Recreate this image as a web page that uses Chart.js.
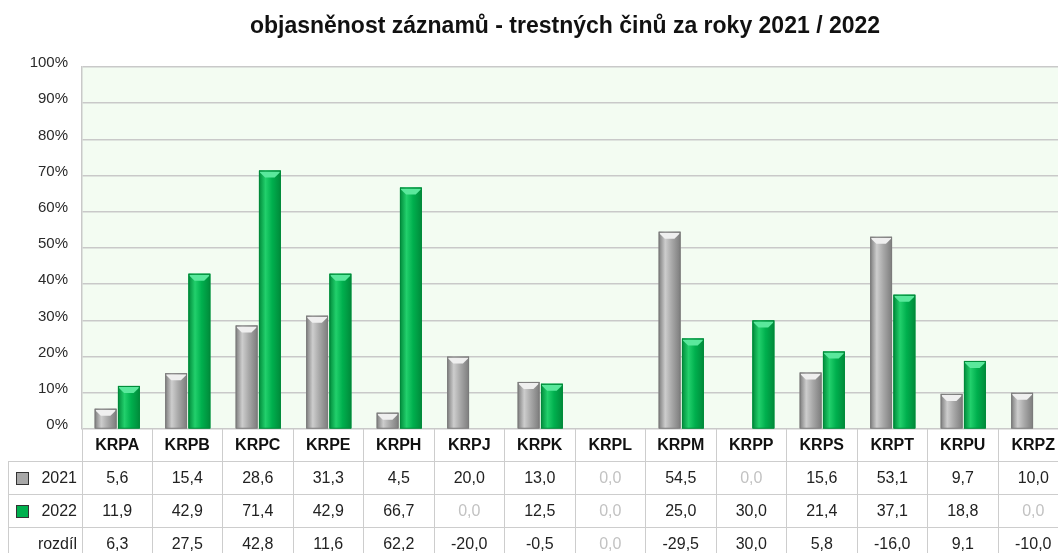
<!DOCTYPE html>
<html lang="cs">
<head>
<meta charset="utf-8">
<title>objasněnost záznamů</title>
<script src="https://cdn.jsdelivr.net/npm/chart.js@4.4.1/dist/chart.umd.min.js"></script>
<style>
    html, body { margin: 0; padding: 0; background: #fff; overflow: hidden; }
    #wrap { position: relative; width: 1070px; height: 553px; }
    #title {
        position: absolute; top: 12px; left: 0; width: 1130px;
        text-align: center; color: #111;
        font: bold 23px "Liberation Sans", Arial, sans-serif;
    }
    .cell {
        position: absolute; box-sizing: border-box;
        display: flex; align-items: center; justify-content: center;
        font-family: "Liberation Sans", Arial, sans-serif; font-size: 16px; color: #222;
        border-color: #cdcdcd; border-style: solid; border-width: 0;
    }
    .head { font-weight: bold; color: #111; }
    .zero { color: #c2c2c2; }
    .lead { justify-content: flex-end; padding-right: 5px; }
    .swatch {
        position: absolute; left: 7px; top: 50%; width: 11px; height: 11px;
        margin-top: -6px; border: 1px solid #333;
    }
</style>
</head>
<body>
<div id="wrap">
    <canvas id="chart" width="1070" height="553"></canvas>
    <div id="title">objasněnost záznamů - trestných činů za roky 2021 / 2022</div>
    <div id="table"></div>
</div>
<script>
const categories = ['KRPA', 'KRPB', 'KRPC', 'KRPE', 'KRPH', 'KRPJ', 'KRPK', 'KRPL', 'KRPM', 'KRPP', 'KRPS', 'KRPT', 'KRPU', 'KRPZ'];
const values2021 = [5.6, 15.4, 28.6, 31.3, 4.5, 20.0, 13.0, 0.0, 54.5, 0.0, 15.6, 53.1, 9.7, 10.0];
const values2022 = [11.9, 42.9, 71.4, 42.9, 66.7, 0.0, 12.5, 0.0, 25.0, 30.0, 21.4, 37.1, 18.8, 0.0];
const rozdil = [6.3, 27.5, 42.8, 11.6, 62.2, -20.0, -0.5, 0.0, -29.5, 30.0, 5.8, -16.0, 9.1, -10.0];
const yTicks = [0, 10, 20, 30, 40, 50, 60, 70, 80, 90, 100];

const FONT = '"Liberation Sans", Arial, sans-serif';

// shading for the cylinder-like bars: 2021 grey, 2022 green
const shades = [
    { edge: '#7c7c7c', light: '#cdcdcd', mid: '#a8a8a8', cap: '#efefef' },
    { edge: '#008a3a', light: '#22d06c', mid: '#00b04e', cap: '#5ae89c' }
];

const barLook = {
    id: 'barLook',
    beforeDraw(chart) {
        const { ctx, chartArea: a } = chart;
        ctx.save();
        ctx.fillStyle = '#f3fcf2';
        ctx.fillRect(a.left, a.top, a.right - a.left, a.bottom - a.top);
        ctx.restore();
    },
    afterDatasetsDraw(chart) {
        const ctx = chart.ctx;
        ctx.save();
        chart.data.datasets.forEach((ds, di) => {
            const pal = shades[di];
            chart.getDatasetMeta(di).data.forEach(bar => {
                const h = bar.base - bar.y;
                if (h < 0.5) return;
                const w = bar.width;
                const x0 = bar.x - w / 2, x1 = bar.x + w / 2;
                const g = ctx.createLinearGradient(x0, 0, x1, 0);
                g.addColorStop(0, pal.edge);
                g.addColorStop(0.3, pal.light);
                g.addColorStop(0.6, pal.mid);
                g.addColorStop(1, pal.edge);
                ctx.fillStyle = g;
                ctx.fillRect(x0, bar.y, w, h);

                const capH = Math.min(7, h);
                ctx.beginPath();
                ctx.moveTo(x0 + 1, bar.y + 1);
                ctx.lineTo(x1 - 1, bar.y + 1);
                ctx.lineTo(x1 - 1, bar.y + 2);
                ctx.lineTo(x1 - w * 0.28, bar.y + capH);
                ctx.lineTo(x0 + w * 0.28, bar.y + capH);
                ctx.lineTo(x0 + 1, bar.y + 2);
                ctx.closePath();
                ctx.fillStyle = pal.cap;
                ctx.fill();

                ctx.strokeStyle = pal.edge;
                ctx.lineWidth = 1;
                ctx.strokeRect(x0 + 0.5, bar.y + 0.5, w - 1, h - 0.5);
            });
        });
        ctx.restore();
    }
};

const chart = new Chart(document.getElementById('chart'), {
    type: 'bar',
    data: {
        labels: categories,
        datasets: [
            { label: '2021', data: values2021, backgroundColor: shades[0].mid },
            { label: '2022', data: values2022, backgroundColor: shades[1].mid }
        ]
    },
    options: {
        responsive: false,
        animation: false,
        events: [],
        layout: { padding: { top: 67, bottom: 124, left: 0, right: 1 } },
        categoryPercentage: 0.66,
        barPercentage: 0.94,
        plugins: {
            legend: { display: false },
            tooltip: { enabled: false }
        },
        scales: {
            x: { display: false },
            y: {
                min: 0,
                max: 100,
                afterBuildTicks: (s) => { s.ticks = yTicks.map(v => ({ value: v })); },
                afterFit: (s) => { s.width = 82; },
                ticks: {
                    callback: v => v + '%',
                    padding: 14,
                    labelOffset: -4,
                    color: '#2a2a2a',
                    font: { family: FONT, size: 15 }
                },
                grid: { color: '#c9c9c9', lineWidth: 1.5, drawTicks: false },
                border: { display: true, color: '#c9c9c9', width: 1.5 }
            }
        }
    },
    plugins: [barLook]
});

// data table under the plot, columns taken from the x scale
function fmt(v) {
    return v.toFixed(1).replace('.', ',');
}

function buildTable() {
    const table = document.getElementById('table');
    const xs = chart.scales.x;
    const area = chart.chartArea;
    const colW = (area.right - area.left) / categories.length;
    const rowTops = [area.bottom, 462, 495, 528];
    const rowH = [462 - area.bottom, 33, 33, 33];
    const rows = [
        { name: '2021', values: values2021, color: shades[0].mid },
        { name: '2022', values: values2022, color: shades[1].mid },
        { name: 'rozdíl', values: rozdil }
    ];
    let html = '';

    // header row
    html += `<div class="cell" style="left:8px;top:${rowTops[0]}px;width:${area.left - 8}px;height:${rowH[0]}px;border-bottom-width:1px"></div>`;
    categories.forEach((c, i) => {
        const left = xs.getPixelForValue(i) - colW / 2;
        html += `<div class="cell head" style="left:${left}px;top:${rowTops[0]}px;width:${colW}px;height:${rowH[0]}px;border-right-width:1px;border-bottom-width:1px;${i === 0 ? 'border-left-width:1px;' : ''}">${c}</div>`;
    });

    rows.forEach((r, ri) => {
        const top = rowTops[ri + 1], h = rowH[ri + 1];
        const swatch = r.color ? `<span class="swatch" style="background:${r.color}"></span>` : '';
        html += `<div class="cell lead" style="left:8px;top:${top}px;width:${area.left - 8}px;height:${h}px;border-left-width:1px;border-bottom-width:1px">${swatch}${r.name}</div>`;
        r.values.forEach((v, i) => {
            const left = xs.getPixelForValue(i) - colW / 2;
            const cls = v === 0 ? 'cell zero' : 'cell';
            html += `<div class="${cls}" style="left:${left}px;top:${top}px;width:${colW}px;height:${h}px;border-right-width:1px;border-bottom-width:1px;${i === 0 ? 'border-left-width:1px;' : ''}">${fmt(v)}</div>`;
        });
    });

    table.innerHTML = html;
}

buildTable();
</script>
</body>
</html>
